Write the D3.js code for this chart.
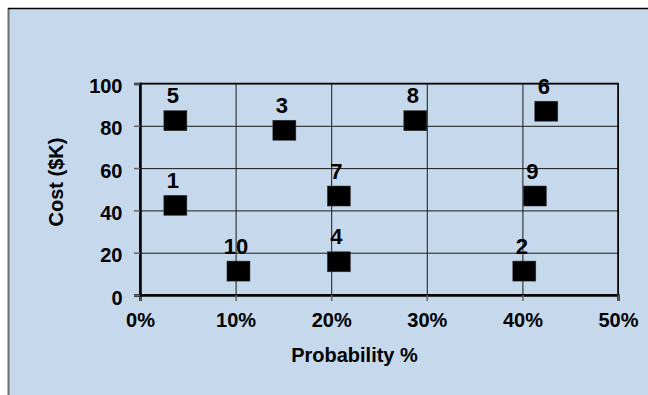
<!DOCTYPE html>
<html>
<head>
<meta charset="utf-8">
<script src="https://cdn.jsdelivr.net/npm/d3@7/dist/d3.min.js"></script>
<style>
  html, body { margin: 0; padding: 0; background: #ffffff; }
  svg { display: block; }
  text { font-family: "Liberation Sans", Arial, sans-serif; font-weight: bold; fill: #000; }
</style>
</head>
<body>
<svg id="chart" width="648" height="395"></svg>
<script>
// ---- data ----
const riskIds = ["1", "2", "3", "4", "5", "6", "7", "8", "9", "10"];
const probability = [3.7, 40.2, 15.1, 20.8, 3.7, 42.5, 20.8, 28.8, 41.3, 10.3]; // percent
const cost = [42.4, 11.3, 77.9, 15.7, 82.4, 86.9, 46.8, 82.4, 46.8, 11.3];      // $K
const xTicks = [0, 10, 20, 30, 40, 50];
const yTicks = [0, 20, 40, 60, 80, 100];
const xTitle = "Probability %";
const yTitle = "Cost ($K)";

const W = 648, H = 395;
const svg = d3.select("#chart");

// chart background with left/top border
svg.append("rect").attr("x", 9).attr("y", 8).attr("width", W - 9).attr("height", H - 8)
  .attr("fill", "#C5D8EC");
svg.append("line").attr("x1", 8.5).attr("x2", 8.5).attr("y1", 8).attr("y2", H)
  .attr("stroke", "#6d6d6d").attr("stroke-width", 2);
svg.append("line").attr("x1", 8).attr("x2", W).attr("y1", 8.5).attr("y2", 8.5)
  .attr("stroke", "#000").attr("stroke-width", 1.5);

const x = d3.scaleLinear().domain([0, 50]).range([140, 618]);
const y = d3.scaleLinear().domain([0, 100]).range([295, 83.5]);

// gridlines
const gx = svg.append("g").attr("transform", `translate(0,${y(0)})`)
  .call(d3.axisBottom(x).tickValues(xTicks).tickSize(-(y(0) - y(100))).tickFormat(""));
gx.select(".domain").remove();
gx.selectAll("line").attr("stroke", "#1a1a1a").attr("stroke-width", 1);

const gy = svg.append("g").attr("transform", `translate(${x(0)},0)`)
  .call(d3.axisLeft(y).tickValues(yTicks).tickSize(-(x(50) - x(0))).tickFormat(""));
gy.select(".domain").remove();
gy.selectAll("line").attr("stroke", "#1a1a1a").attr("stroke-width", 1);

// plot frame
svg.append("rect").attr("x", x(0)).attr("y", y(100))
  .attr("width", x(50) - x(0)).attr("height", y(0) - y(100))
  .attr("fill", "none").attr("stroke", "#000").attr("stroke-width", 1.5);

// axes (ticks + labels)
const ax = svg.append("g").attr("transform", `translate(0,${y(0)})`)
  .call(d3.axisBottom(x).tickValues(xTicks).tickSize(6).tickPadding(0).tickFormat(d => d + "%"));
ax.select(".domain").attr("stroke", "#000").attr("stroke-width", 2.5);
ax.selectAll(".tick line").attr("stroke", "#666").attr("stroke-width", 1.5);
ax.selectAll(".tick text").attr("font-size", 20).attr("y", 32).attr("dy", null)
  .attr("font-family", "Liberation Sans, Arial, sans-serif").attr("font-weight", "bold").attr("fill", "#000");

const ay = svg.append("g").attr("transform", `translate(${x(0)},0)`)
  .call(d3.axisLeft(y).tickValues(yTicks).tickSize(6).tickPadding(0).tickFormat(d => d));
ay.select(".domain").attr("stroke", "#000").attr("stroke-width", 2.5);
ay.selectAll(".tick line").attr("stroke", "#666").attr("stroke-width", 1.5);
ay.selectAll(".tick text").attr("font-size", 20).attr("x", -17.5).attr("dy", null).attr("y", 9)
  .attr("font-family", "Liberation Sans, Arial, sans-serif").attr("font-weight", "bold").attr("fill", "#000");

// axis titles
svg.append("text").attr("x", 354.5).attr("y", 362).attr("text-anchor", "middle")
  .attr("font-size", 20).text(xTitle);
svg.append("text").attr("transform", "translate(63,182) rotate(-90)").attr("text-anchor", "middle")
  .attr("font-size", 20).text(yTitle);

// markers
const pts = riskIds.map((id, i) => ({ id, p: probability[i], c: cost[i] }));
const MW = 23, MH = 20;
svg.append("g").selectAll("rect").data(pts).join("rect")
  .attr("x", d => x(d.p) - MW / 2).attr("y", d => y(d.c) - MH / 2)
  .attr("width", MW).attr("height", MH)
  .attr("fill", "#000").attr("stroke", "#333").attr("stroke-width", 0.5);

// labels
svg.append("g").selectAll("text").data(pts).join("text")
  .attr("x", d => x(d.p) - 2.5).attr("y", d => y(d.c) - MH / 2 - 7.5)
  .attr("text-anchor", "middle").attr("font-size", 22).text(d => d.id);
</script>
</body>
</html>
